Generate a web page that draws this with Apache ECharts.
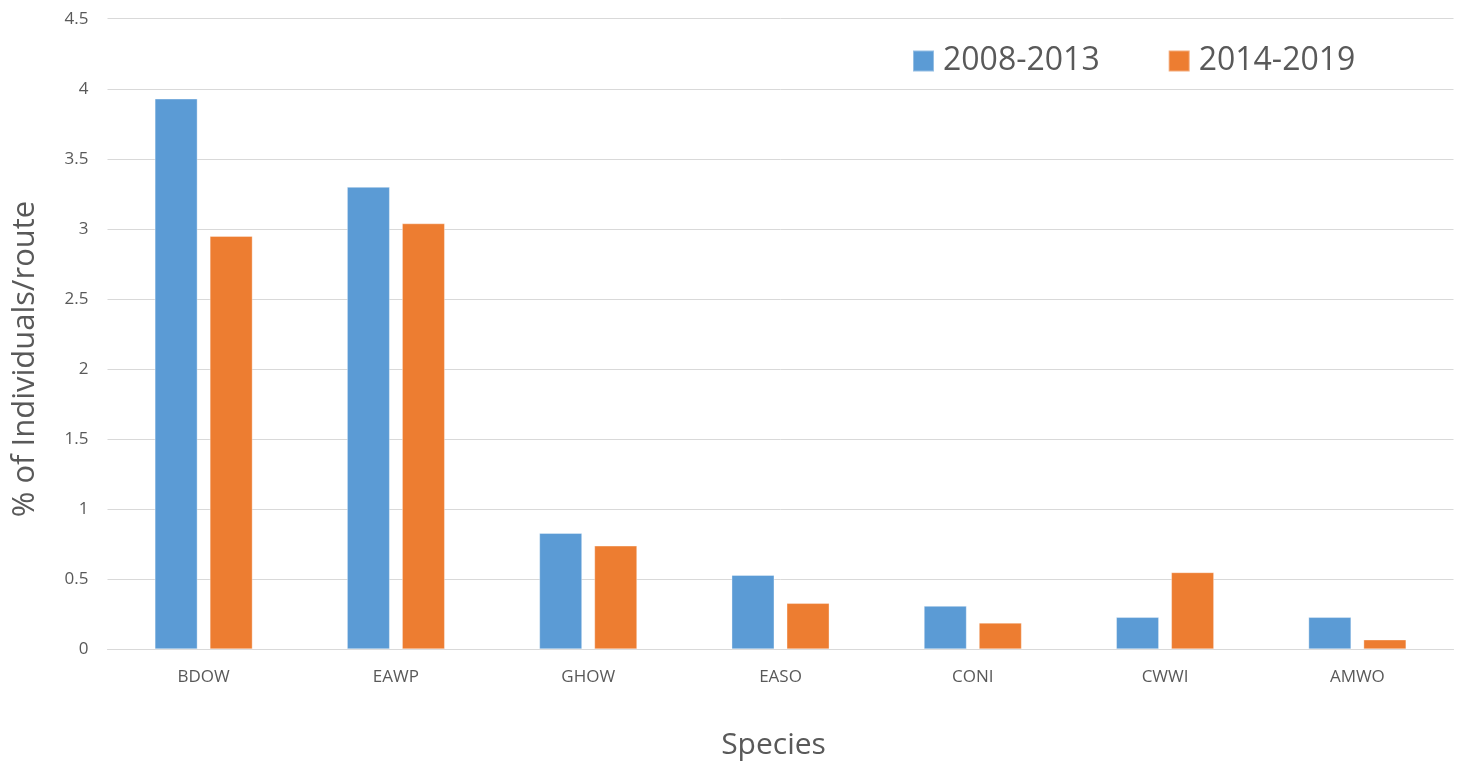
<!DOCTYPE html>
<html>
<head>
<meta charset="utf-8">
<script src="https://cdn.jsdelivr.net/npm/echarts@6/dist/echarts.min.js"></script>
<style>
  html, body { margin: 0; padding: 0; background: #ffffff; }
  #chart { width: 1463px; height: 770px; }
</style>
</head>
<body>
<div id="chart"></div>
<script>
// Species codes along the x axis
const species = ['BDOW', 'EAWP', 'GHOW', 'EASO', 'CONI', 'CWWI', 'AMWO'];
// % of individuals per route, by period
const period1Name = '2008-2013';
const period1 = [3.93, 3.30, 0.83, 0.53, 0.31, 0.23, 0.23];
const period2Name = '2014-2019';
const period2 = [2.95, 3.04, 0.74, 0.33, 0.19, 0.55, 0.07];

const FONT = '"Open Sans", "Liberation Sans", sans-serif';
const TEXT = '#595959';
const GRID = '#d9d9d9';

const chart = echarts.init(document.getElementById('chart'), null, { renderer: 'canvas' });

chart.setOption({
  animation: false,
  backgroundColor: '#ffffff',
  textStyle: { fontFamily: FONT },
  grid: { left: 107.5, right: 9.5, top: 18.7, bottom: 120.7, containLabel: false },
  legend: {
    data: [period1Name, period2Name],
    left: 912,
    top: 44,
    padding: 0,
    itemWidth: 21,
    itemHeight: 21,
    itemGap: 68,
    icon: 'rect',
    textStyle: { fontFamily: FONT, fontSize: 32, color: TEXT, lineHeight: 34, padding: [0, 0, 0, 4] }
  },
  xAxis: {
    type: 'category',
    data: species,
    axisLine: { show: true, lineStyle: { color: GRID, width: 1 } },
    axisTick: { show: false },
    axisLabel: { fontFamily: FONT, fontSize: 17, color: TEXT, margin: 19 }
  },
  yAxis: {
    type: 'value',
    min: 0,
    max: 4.5,
    interval: 0.5,
    axisLine: { show: false },
    axisTick: { show: false },
    splitLine: { lineStyle: { color: GRID, width: 1 } },
    axisLabel: { fontFamily: FONT, fontSize: 17, color: TEXT, margin: 19 }
  },
  graphic: [
    {
      type: 'text',
      x: 25,
      y: 359,
      rotation: Math.PI / 2,
      style: {
        text: '% of Individuals/route',
        font: '31px ' + FONT,
        fill: TEXT,
        textAlign: 'center',
        textVerticalAlign: 'middle'
      }
    },
    {
      type: 'text',
      x: 773.5,
      y: 745,
      style: {
        text: 'Species',
        font: '30px ' + FONT,
        fill: TEXT,
        textAlign: 'center',
        textVerticalAlign: 'middle'
      }
    }
  ],
  series: [
    {
      name: period1Name,
      type: 'bar',
      data: period1,
      barWidth: 43,
      barGap: '28%',
      itemStyle: { color: '#5b9bd5', borderColor: 'rgba(255,255,255,0.35)', borderWidth: 1 }
    },
    {
      name: period2Name,
      type: 'bar',
      data: period2,
      barWidth: 43,
      barGap: '28%',
      itemStyle: { color: '#ed7d31', borderColor: 'rgba(255,255,255,0.35)', borderWidth: 1 }
    }
  ]
});
</script>
</body>
</html>
